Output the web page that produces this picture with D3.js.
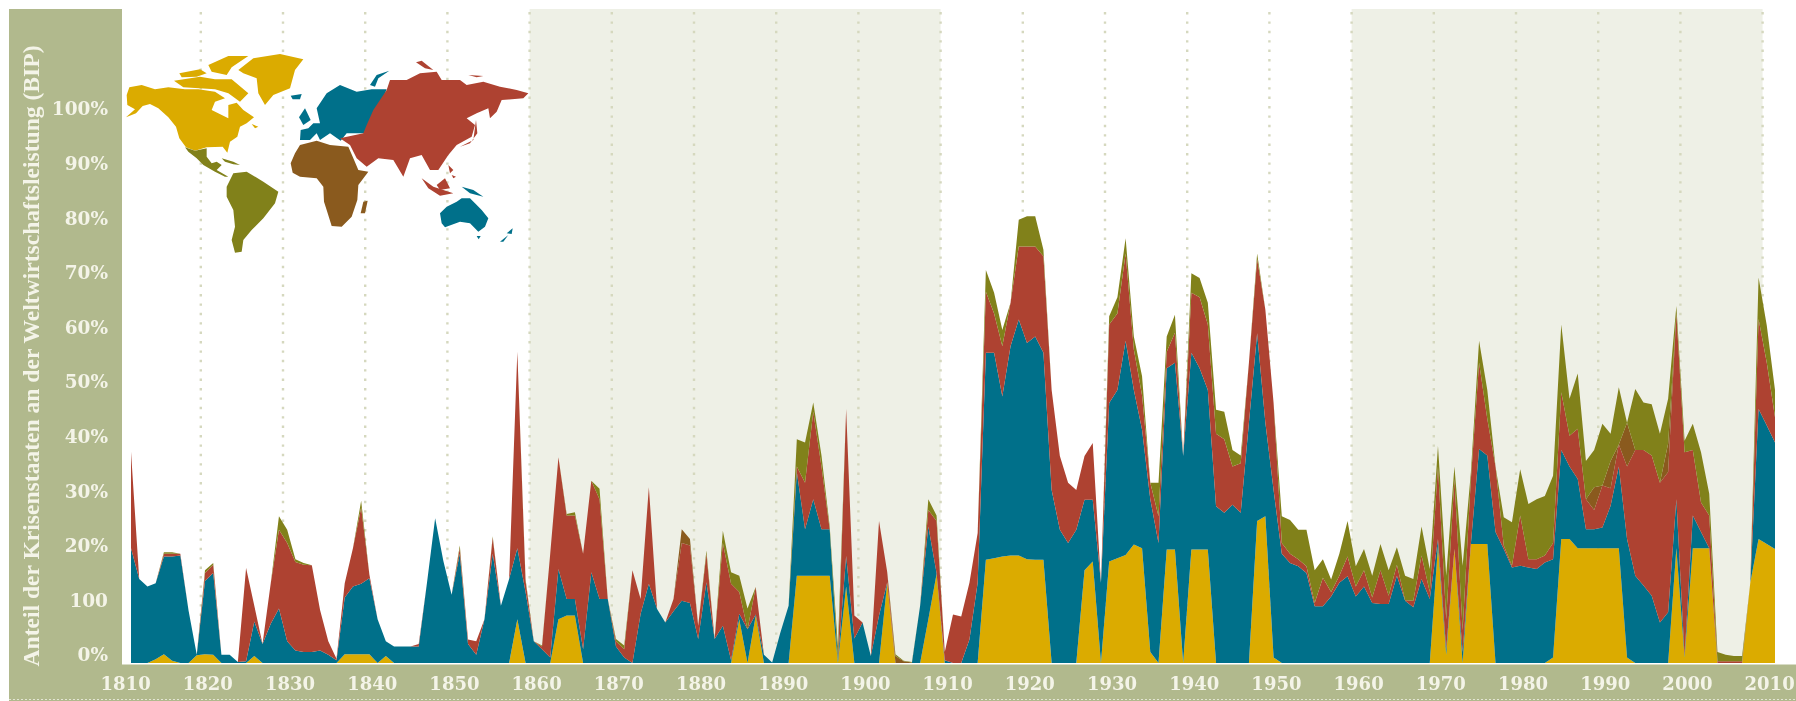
<!DOCTYPE html>
<html><head><meta charset="utf-8">
<style>
html,body{margin:0;padding:0;background:#fff;overflow:hidden}
svg{display:block;filter:blur(0.55px)}
text{font-family:"DejaVu Serif",serif}
</style>
<script src="https://cdn.jsdelivr.net/npm/d3@7"></script>
</head><body><svg id="c" width="1796" height="701"></svg>
<script>
const startYear = 1810;
const xTickYears = d3.range(1810, 2011, 10);
const yTickValues = d3.range(0, 101, 10);
const yTickLabels = ["0%","100","20%","30%","40%","50%","60%","70%","80%","90%","100%"];
const yTitle = "Anteil der Krisenstaaten an der Weltwirtschaftsleistung (BIP)";
const shadedDecades = [[1860,1910],[1960,2010]];
const colors = {yellow:"#dbab00",teal:"#00708a",red:"#ae4231",brown:"#8a5a1e",olive:"#81811a"};

// North America
const yellow = [
0,0,0,.7,1.6,.4,0,0,1.4,1.6,
1.5,0,0,0,0,1.3,0,0,0,0,
0,0,0,0,0,0,1.6,1.6,1.6,1.6,
0,1.3,0,0,0,0,0,0,0,0,
0,0,0,0,0,0,0,8,0,0,
0,0,8,8.7,8.7,0,0,0,0,0,
0,0,0,0,0,0,0,0,0,0,
0,0,0,0,8,0,8.7,0,0,0,
0,16,16,16,16,16,0,14,0,0,
0,0,14.8,0,0,0,0,8,16.3,0,
0,0,0,0,18.9,19.2,19.5,19.7,19.7,19,
18.9,18.9,0,0,0,0,17,18.6,0,18.6,
19.2,19.8,21.7,21,2,0,20.8,20.8,0,20.8,
20.8,20.8,0,0,0,0,0,26,26.9,1,
0,0,0,0,0,0,0,0,0,0,
0,0,0,0,0,0,0,0,0,21.5,
1.5,20.9,0,21.8,21.8,21.8,0,0,0,0,
0,0,0,1,22.7,22.7,21,21,21,21,
21,21,1,0,0,0,0,0,21,1,
21,21,21,0,0,0,0,14.8,22.7,21.8,
20.9];
// Europe and Oceania: upper edge of the band
const tealTop = [
21,15.4,14,14.6,19.5,19.5,19.7,9.6,1.5,15,
16.5,1.5,1.5,.2,.3,7.6,3.5,7.2,10,4,
2.3,2,2,2.3,1.5,.5,12,14,14.5,15.5,
8,4,3,3,3,3,14.6,26.5,18.7,12.5,
20,3.5,1.5,8,20,10.5,15.4,21,13,4,
2.5,1,17.2,11.7,11.7,2.5,16.6,11.7,11.7,3,
1,0,9,14.5,9.9,7.4,9.5,11.4,11,4.4,
14.8,4.4,6.8,.5,9,6.2,8.9,1.5,.1,5.6,
10.5,35,24.5,30,24.5,24.5,.5,19.6,4.5,7.4,
1.3,8.7,14.8,0,0,0,10.5,25,16.5,.5,
0,0,4.3,14.7,56.8,56.8,48.8,58,62.9,58.6,
59.8,56.8,31.7,24.4,22,24.4,29.9,29.9,14.7,47.6,
50,59,50,42.7,30,22,54,55,37.9,56.8,
54,50,28.7,27.5,29,27.5,44,60.4,44,31.7,
20,18.3,17.7,16.5,10.4,10.4,12.2,14.7,15.9,12.2,
14,11,10.8,10.8,16,11.4,10.2,15.4,11.7,22.7,
2.5,20.9,2,21.8,39.2,38,24,20.9,17.5,17.8,
17.5,17.2,18.4,19,39,36,33.7,24.5,24.5,24.8,
28.8,36,22.7,16,14.2,12.3,7.4,9.3,30,1.3,
27,24,21,0,0,0,0,14.8,46.5,43.5,
40.4];
// Asia: upper edge of the band
const redTop = [
38.7,15.4,14,14.6,20,20,20,9.6,1.5,16.5,
18,1.5,1.5,.2,17.4,10.5,3.5,14.6,24.4,22,
18.5,18,17.9,9.7,4,.8,14.6,21,28.5,16.2,
8,4,3,3,3,3.5,14.6,26.5,18.7,12.5,
21,4.3,4,8,23,10.5,15.4,57,15,4,
3,20,37.7,27,27,20,33.4,30,11.7,4,
2.5,17,11.7,32.2,9.9,7.4,11.7,22,21.5,6.8,
20,4.4,22,14.5,13,6.2,13.9,1.5,.1,5.6,
10.5,36,33,46,36,24.5,.5,46.5,8.7,7.4,
1.3,26,16.6,0,0,0,10.5,28,26,2,
8.9,8.5,14.7,23.8,68,64,58,66,76.3,76.3,
76.3,74.5,50,37.9,33,31.7,37.9,40.3,14.7,62,
64,75,57.4,49,33,26.9,57,60.5,37.9,67.8,
67,62,42,41,36,36.6,55,74,64.7,47.6,
22,20,19,17.7,11,15.6,13,16,19.5,14,
17,12,17,12.3,18,11.5,11.4,19.7,13,36,
8,33.7,6,33.7,55,44.7,36,21.5,17.8,27,
19,19,19.7,22,49.6,41.6,42.9,30,28,32.5,
32,40,36,39,39,38,33,35,64,38.6,
39,29.4,27,.3,.3,.3,.3,14.8,63,55,
45];
// Africa
const brown = [
0,0,0,0,0,0,0,0,0,0, 0,0,0,0,0,0,0,0,0,0,
0,0,0,0,0,0,0,0,0,0, 0,0,0,0,0,0,0,0,0,0,
0,0,0,0,0,0,0,0,0,0, 0,0,0,0,0,0,0,0,0,0,
0,0,0,0,0,0,0,2.5,1.2,0, 0,0,0,0,0,0,0,0,0,0,
0,0,0,0,0,0,0,0,0,0, 0,0,0,1.3,.3,.1,0,0,0,0,
0,0,0,0,0,0,0,0,0,0, 0,0,0,0,0,0,0,0,0,0,
0,0,0,0,0,0,0,0,0,0, 0,0,0,0,0,0,0,0,0,0,
0,0,0,0,0,0,0,0,0,0, 0,0,0,0,0,0,0,0,0,0,
0,0,0,0,0,0,0,0,0,0, 0,0,0,0,0,0,0,0,4.2,0,
5,0,8,0,0,0,0,5.2,0,0, 0,0,0,0,0,0,0,0,0,0,
0,0,0,0,0,0,0,0,0,0, 0,0,0,1.7,1.2,1,1,0,0,0,
0];
// Latin America sits on top: total of all regions
const totalTop = [
38.7,15.4,14,14.6,20.3,20.3,20,9.6,1.5,17,
18.3,1.5,1.5,.2,17.4,10.5,3.5,14.6,26.9,24.4,
19,18.3,17.9,9.7,4,.8,14.6,21,29.7,16.2,
8,4,3,3,3,3.5,14.6,26.5,18.7,12.5,
21.5,4.3,4,8,23.2,10.5,15.4,57,15.4,4,
3.2,20,37.7,27.3,27.6,20,33.4,31.9,11.7,4.4,
3.2,17,11.7,32.2,9.9,7.4,11.7,24.5,22.7,6.8,
20.6,4.4,24.2,16.6,16,10,13.9,1.5,.1,5.6,
10.5,41,40.4,47.7,38,25,3,46.5,8.7,7.4,
1.3,26,16.6,1.6,.4,.2,10.5,30,27,2,
8.9,8.5,14.7,23.8,72,67.8,61,66,81.2,81.8,
81.8,75.7,50,37.9,33,31.7,37.9,40.3,14.7,63.5,
67,77.8,59.8,52.5,33,33,59.8,63.8,37.9,71.4,
70.5,66,46.4,46,39,38,55,75,64.7,47.6,
26.9,26.2,24.4,24.4,17,19,15.3,20,26,17.7,
20.9,16,21.8,17,21.2,16,15.4,25,17.2,39.8,
16,36,17.8,34.9,59,50,36,26.7,25.8,35.5,
29.1,30,30.6,34.3,62,48.4,53,37,39,43.8,
42,50.5,44,50.2,47.7,47.4,42,48.4,65.4,40.7,
43.8,38.6,31,2,1.5,1.3,1.3,14.8,70.6,61.8,
50];

// Inset world map outlines, in the inset's own grid
const mapShapes = [
 ["yellow",[[80,195],[88,172],[125,165],[165,178],[205,172],[255,178],[295,178],[345,185],[375,205],[345,215],[335,240],[385,265],[385,225],[410,218],[430,240],[462,262],[440,280],[420,290],[412,320],[390,335],[382,368],[368,350],[320,352],[285,362],[258,352],[238,325],[228,290],[205,262],[175,235],[150,222],[128,228],[108,250],[78,262],[105,238],[82,225]]],
 ["yellow",[[238,130],[300,118],[320,130],[290,140],[245,142]]],
 ["yellow",[[325,105],[385,78],[445,78],[395,112],[380,135],[335,125]]],
 ["yellow",[[222,152],[300,140],[345,148],[395,148],[445,190],[420,215],[385,190],[345,178],[250,172]]],
 ["yellow",[[415,120],[460,85],[540,72],[610,88],[585,120],[570,175],[520,195],[495,225],[475,190],[470,145],[430,130]]],
 ["yellow",[[455,282],[475,290],[465,295]]],
 ["teal",[[572,197],[605,192],[600,208],[578,208]]],
 ["olive",[[255,352],[285,362],[320,355],[320,380],[335,400],[350,395],[365,405],[350,420],[385,440],[375,440],[345,425],[310,405],[290,385],[265,365]]],
 ["olive",[[365,385],[400,395],[420,405],[400,403],[375,395]]],
 ["olive",[[380,470],[400,430],[440,425],[490,455],[535,485],[525,520],[490,565],[455,600],[430,630],[425,665],[405,668],[395,630],[405,590],[400,540],[380,500]]],
 ["teal",[[600,330],[602,300],[625,295],[640,280],[660,280],[650,235],[680,190],[720,165],[770,185],[815,178],[860,178],[845,215],[815,260],[800,300],[795,310],[740,310],[722,332],[690,310],[660,330],[650,310],[630,330]]],
 ["teal",[[597,262],[615,235],[632,270],[610,285]]],
 ["teal",[[810,165],[830,135],[868,122],[835,145],[825,170]]],
 ["red",[[870,150],[920,150],[960,130],[1010,125],[1025,150],[1080,150],[1100,165],[1150,155],[1200,170],[1250,180],[1285,190],[1270,205],[1205,210],[1190,245],[1170,265],[1165,235],[1130,250],[1100,265],[1125,285],[1115,320],[1070,345],[1045,375],[1015,420],[990,420],[965,375],[930,385],[910,440],[880,390],[835,385],[800,410],[770,385],[750,345],[720,325],[790,310],[800,285],[820,240],[860,180]]],
 ["red",[[948,97],[965,92],[1000,120],[975,115]]],
 ["red",[[1105,135],[1150,138],[1130,142]]],
 ["red",[[1080,350],[1120,330],[1128,270],[1132,310],[1110,340]]],
 ["red",[[965,445],[1000,470],[1060,490],[1020,497],[985,475]]],
 ["red",[[1010,465],[1035,445],[1050,475],[1020,480]]],
 ["red",[[1045,405],[1060,420],[1050,430]]],
 ["red",[[1055,435],[1068,440],[1060,445]]],
 ["brown",[[572,400],[585,370],[600,345],[650,332],[690,345],[745,350],[760,385],[775,420],[805,425],[775,465],[772,510],[755,560],[725,590],[695,588],[680,540],[672,515],[670,470],[650,445],[600,440],[578,428]]],
 ["brown",[[782,550],[790,515],[803,512],[795,550]]],
 ["teal",[[1020,550],[1040,530],[1070,515],[1085,505],[1110,505],[1125,520],[1145,540],[1165,565],[1155,590],[1135,605],[1110,580],[1080,575],[1035,592],[1025,580]]],
 ["teal",[[1130,618],[1142,618],[1136,628]]],
 ["teal",[[1200,635],[1225,615],[1210,635]]],
 ["teal",[[1220,610],[1238,595],[1235,612]]],
 ["teal",[[1085,470],[1120,480],[1150,500],[1110,490]]]
];

const svg = d3.select("#c");
const baseY = 663;
const xGrid = d3.scaleLinear([1810,2010],[118.6,1762.6]);
const xData = d3.scaleLinear([1810,2010],[131,1775]);
const y = d3.scaleLinear([0,100],[baseY,117]);

// Derive the band thicknesses and stack them
const rows = yellow.map((v,i)=>{
  const teal = Math.max(0,tealTop[i]-v);
  const red = Math.max(0,redTop[i]-Math.max(v,tealTop[i]));
  const sum = v+teal+red+brown[i];
  return {year:startYear+i,yellow:v,teal,red,brown:brown[i],olive:Math.max(0,totalTop[i]-sum)};
});
const keys = ["yellow","teal","red","brown","olive"];
const stacked = d3.stack().keys(keys)(rows);

// Background panels
svg.append("rect").attr("width",1796).attr("height",701).attr("fill","#fff");
svg.selectAll("rect.shade").data(shadedDecades).join("rect").attr("class","shade")
  .attr("x",d=>xGrid(d[0])).attr("y",9).attr("width",d=>xGrid(d[1])-xGrid(d[0])).attr("height",baseY-9)
  .attr("fill","#eef0e6");

// Dotted gridlines
svg.append("g").selectAll("line").data(xTickYears.slice(1)).join("line")
  .attr("x1",d=>xGrid(d)).attr("x2",d=>xGrid(d)).attr("y1",12).attr("y2",baseY)
  .attr("stroke","#d5d8be").attr("stroke-width",2.4).attr("stroke-dasharray","2.4 7");

// Areas
const area = d3.area().x(d=>xData(d.data.year)).y0(d=>y(d[0])).y1(d=>y(d[1])).curve(d3.curveLinear);
svg.append("g").selectAll("path").data(stacked).join("path")
  .attr("d",area).attr("fill",d=>colors[d.key]);

// Frame bands
svg.append("rect").attr("x",9).attr("y",9).attr("width",113).attr("height",692).attr("fill","#b1b98d");
svg.append("rect").attr("x",9).attr("y",664.5).attr("width",1787).attr("height",36.5).attr("fill","#b1b98d");
svg.append("line").attr("x1",9).attr("x2",1796).attr("y1",699.5).attr("y2",699.5)
  .attr("stroke","#e3e5d3").attr("stroke-dasharray","2 2");

// Axes
const yAxis = d3.axisLeft(y).tickValues(yTickValues).tickSize(0).tickPadding(0)
  .tickFormat((d,i)=>yTickLabels[i]);
const gy = svg.append("g").attr("transform","translate(108,-8)").call(yAxis);
gy.select(".domain").remove();
gy.selectAll("text").attr("fill","#f4f4e8").attr("font-size",18.5).attr("font-weight",700).attr("font-family","DejaVu Serif");

const xAxis = d3.axisBottom(xGrid).tickValues(xTickYears).tickSize(0).tickPadding(0).tickFormat(d3.format("d"));
const gx = svg.append("g").attr("transform","translate(6.5,677)").call(xAxis);
gx.select(".domain").remove();
gx.selectAll("text").attr("fill","#f4f4e8").attr("font-size",18).attr("font-weight",700).attr("font-family","DejaVu Serif");

svg.append("text").attr("transform","translate(39,356) rotate(-90)").attr("text-anchor","middle")
  .attr("fill","#f4f4e8").attr("font-size",23).attr("font-weight",700)
  .style("font-family","'Liberation Serif',serif")
  .attr("textLength",621).attr("lengthAdjust","spacingAndGlyphs").text(yTitle);

// Inset map
const mx = d3.scaleLinear([0,3],[100,101]);
const my = d3.scaleLinear([0,3],[30,31]);
const outline = d3.line().x(d=>mx(d[0])).y(d=>my(d[1])).curve(d3.curveLinearClosed);
svg.append("g").selectAll("path").data(mapShapes).join("path")
  .attr("d",d=>outline(d[1])).attr("fill",d=>colors[d[0]]);
</script></body></html>
